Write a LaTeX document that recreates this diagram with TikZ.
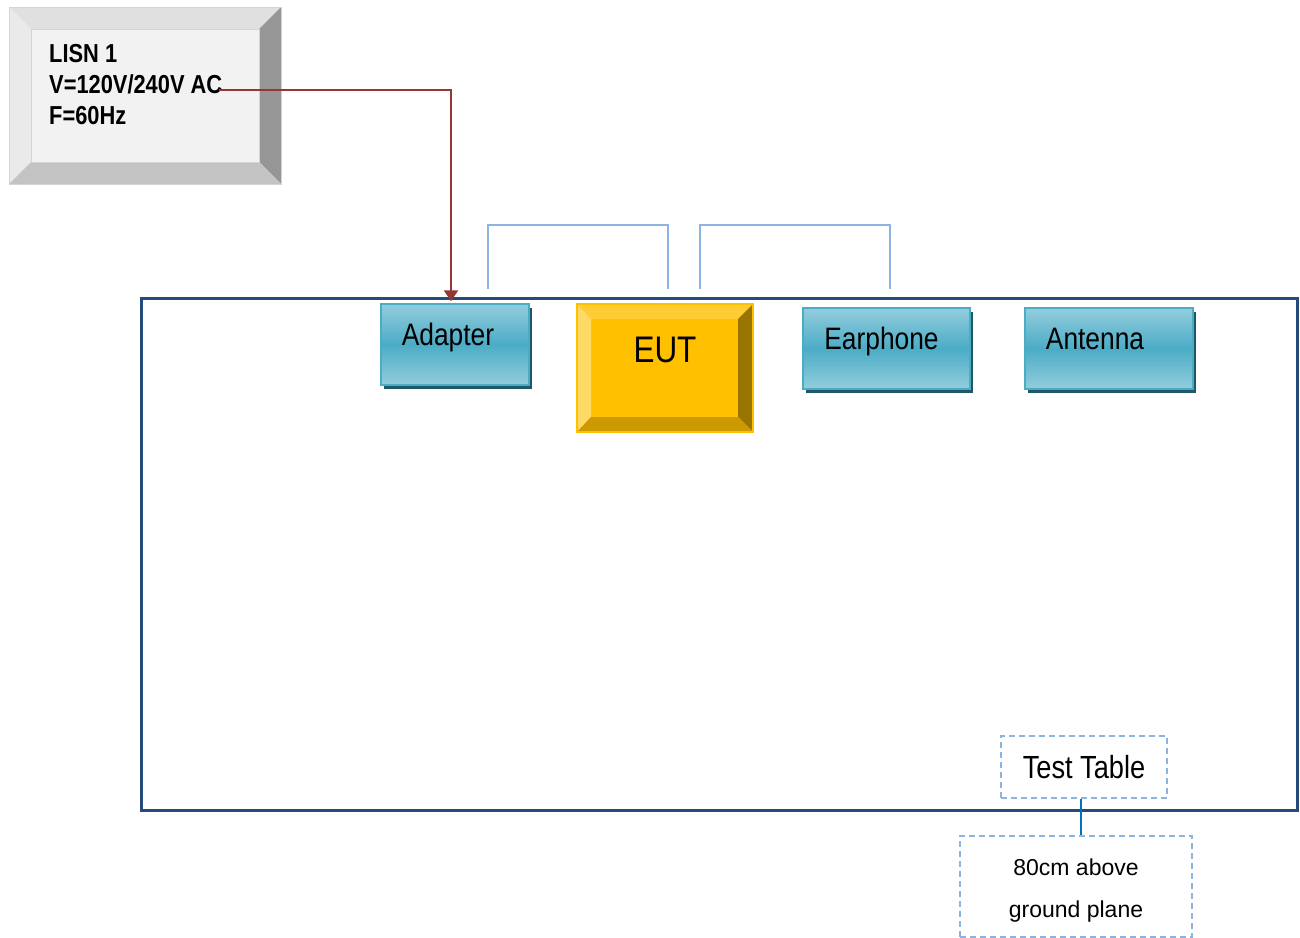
\documentclass[tikz,border=0pt]{standalone}
\usepackage{fontspec}
\setmainfont{Liberation Sans}
\newfontfamily\narrowfont[FakeStretch=0.85]{Liberation Sans}
\newfontfamily\boldnarrowfont[FakeStretch=0.84]{Liberation Sans Bold}
\usetikzlibrary{arrows.meta,shadows,calc}
\definecolor{frameblue}{HTML}{254A7C}
\definecolor{linkblue}{HTML}{8DB3E2}
\definecolor{tealmid}{HTML}{4BACC6}
\definecolor{teallight}{HTML}{93CDDD}
\definecolor{tealdark}{HTML}{215868}
\definecolor{cablered}{HTML}{953735}
\definecolor{eutface}{HTML}{FFC000}
\definecolor{euttop}{HTML}{FFCC33}
\definecolor{eutleft}{HTML}{FFD966}
\definecolor{eutright}{HTML}{9A7400}
\definecolor{eutbottom}{HTML}{CC9A00}
\definecolor{lisnface}{HTML}{F2F2F2}
\definecolor{lisntop}{HTML}{E0E0E0}
\definecolor{lisnleft}{HTML}{EAEAEA}
\definecolor{lisnright}{HTML}{969696}
\definecolor{lisnbottom}{HTML}{C3C3C3}
\definecolor{lisnborder}{HTML}{D4D4D4}
\definecolor{stemblue}{HTML}{0070C0}
\tikzset{
  devbox/.style={draw=tealmid, line width=1.5pt, top color=teallight, bottom color=teallight, middle color=tealmid,
    minimum width=148pt, minimum height=81pt, inner sep=0pt,
    drop shadow={shadow xshift=3pt, shadow yshift=-4pt, fill=tealdark, opacity=1}},
  devlabel/.style={font=\narrowfont\fontsize{31}{31}\selectfont},
  link/.style={draw=linkblue, line width=2.5pt},
  noteframe/.style={draw=linkblue, line width=1.5pt, dash pattern=on 6pt off 4pt, inner sep=0pt},
}
\begin{document}
\begin{tikzpicture}[x=1pt,y=-1pt]
\useasboundingbox (0,0) rectangle (1300,937);
% LISN bevelled box
\fill[lisntop] (9,7) -- (281,7) -- (259,29) -- (31,29) -- cycle;
\fill[lisnleft] (9,7) -- (31,29) -- (31,162) -- (9,184) -- cycle;
\fill[lisnright] (281,7) -- (281,184) -- (259,162) -- (259,29) -- cycle;
\fill[lisnbottom] (9,184) -- (31,162) -- (259,162) -- (281,184) -- cycle;
\draw[lisnborder, line width=1pt] (9,7) rectangle (281,184);
\node[draw=lisnborder, fill=lisnface, line width=1pt, minimum width=228pt, minimum height=133pt, inner sep=0pt] (lisn) at (145,95.5) {};
\node[anchor=north west, align=left, inner sep=0pt, font=\boldnarrowfont\fontsize{26}{31}\selectfont] (lisntext) at (49,44) {LISN 1\\V=120V/240V AC\\F=60Hz};
\coordinate (lisnout) at (219,90);

% test table frame
\node[draw=frameblue, line width=3pt, minimum width=1156pt, minimum height=512pt, inner sep=0pt] (table) at (719,554) {};

% devices
\node[devbox, label={[devlabel, xshift=-7pt, yshift=7pt]center:Adapter}] (adapter) at (455,344.5) {};
\node[devbox, minimum width=167pt, label={[devlabel, xshift=-5pt, yshift=7pt]center:Earphone}] (earphone) at (886.5,348.5) {};
\node[devbox, minimum width=168pt, label={[devlabel, xshift=-14pt, yshift=10pt]center:Antenna}] (antenna) at (1109,348.5) {};

% EUT bevelled box
\node[fill=eutface, minimum width=176pt, minimum height=128pt, inner sep=0pt] (eut) at (665,368) {};
\fill[euttop] (577,304) -- (753,304) -- (738,319) -- (591,319) -- cycle;
\fill[eutleft] (577,304) -- (591,319) -- (591,417) -- (577,432) -- cycle;
\fill[eutright] (753,304) -- (753,432) -- (738,417) -- (738,319) -- cycle;
\fill[eutbottom] (577,432) -- (591,417) -- (738,417) -- (753,432) -- cycle;
\draw[eutface, line width=1.5pt] (eut.north west) rectangle (eut.south east);
\node[font=\narrowfont\fontsize{37}{37}\selectfont, inner sep=0pt] (euttext) at (665,350) {EUT};

% power cable
\draw[cablered, line width=2.5pt, -{Triangle[width=14pt,length=11pt]}] (lisnout) -| ([xshift=-4pt, yshift=2pt]adapter.north);

% signal links
\coordinate (l1a) at (488,289);
\coordinate (l1b) at (668,289);
\coordinate (l2a) at (700,289);
\coordinate (l2b) at (890,289);
\draw[link] (l1a) -- ++(0,-64) -| (l1b);
\draw[link] (l2a) -- ++(0,-64) -| (l2b);

% notes
\node[noteframe, minimum width=166pt, minimum height=62pt, font=\narrowfont\fontsize{32}{32}\selectfont] (tt) at (1084,767) {Test Table};
\node[noteframe, minimum width=232pt, minimum height=101pt,
  label={[align=center, font=\fontsize{23}{42}\selectfont, yshift=-4pt]center:80cm above\\ground plane}] (gp) at (1076,886.5) {};
\draw[stemblue, line width=2pt] (tt.south -| 1081,0) -- (gp.north -| 1081,0);
\end{tikzpicture}
\end{document}
